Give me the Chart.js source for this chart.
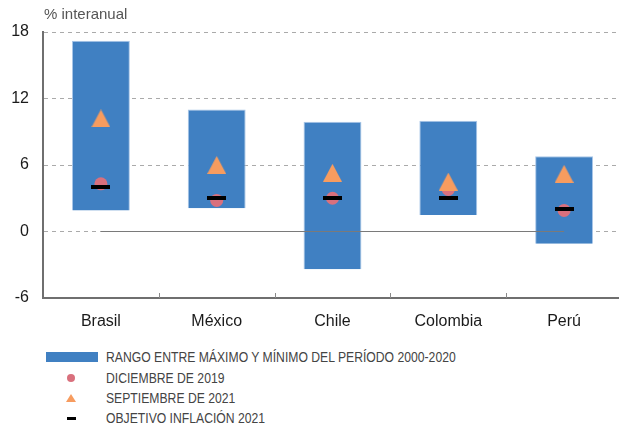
<!DOCTYPE html>
<html>
<head>
<meta charset="utf-8">
<script src="https://cdn.jsdelivr.net/npm/chart.js@4.4.0/dist/chart.umd.min.js"></script>
<style>
    html, body { margin: 0; padding: 0; background: #fff; overflow: hidden; }
    #wrap { position: relative; width: 633px; height: 340px; }
    #title { position: absolute; left: 44px; top: 5px; font: 15px "Liberation Sans", Arial, sans-serif; color: #555; }
    #legend { position: absolute; left: 0; top: 346px; font: 14px "Liberation Sans", Arial, sans-serif; color: #444; }
    .row { position: relative; height: 20px; line-height: 20px; padding-left: 106px; white-space: nowrap; }
    .row.first { height: 22px; line-height: 22px; }
    .row span.t { display: inline-block; transform: scaleX(0.87); transform-origin: left center; }
    .mk { position: absolute; }
</style>
</head>
<body>
<div id="wrap">
    <canvas id="chart" width="633" height="340"></canvas>
    <div id="title">% interanual</div>
</div>
<div id="legend">
    <div class="row first"><span class="mk" style="left:46px;top:6px;width:52px;height:10px;background:#4080C2"></span><span class="t">RANGO ENTRE MÁXIMO Y MÍNIMO DEL PERÍODO 2000-2020</span></div>
    <div class="row"><span class="mk" style="left:67px;top:6px;width:8px;height:8px;border-radius:50%;background:#D9707D"></span><span class="t">DICIEMBRE DE 2019</span></div>
    <div class="row"><span class="mk" style="left:66px;top:6px;width:0;height:0;border-left:5px solid transparent;border-right:5px solid transparent;border-bottom:8px solid #F79C5F"></span><span class="t">SEPTIEMBRE DE 2021</span></div>
    <div class="row"><span class="mk" style="left:67px;top:9px;width:9px;height:3px;background:#000"></span><span class="t">OBJETIVO INFLACIÓN 2021</span></div>
</div>
<script>
// data
const categories = ['Brasil', 'México', 'Chile', 'Colombia', 'Perú'];
const rangeMin = [1.9, 2.1, -3.4, 1.5, -1.1];
const rangeMax = [17.2, 11.0, 9.9, 10.0, 6.8];
const dec2019 = [4.3, 2.8, 3.0, 3.8, 1.9];
const sep2021 = [10.2, 6.0, 5.3, 4.5, 5.2];
const target2021 = [4.0, 3.0, 3.0, 3.0, 2.0];
const zeroLine = [0, 0, 0, 0, 0];
const yTicks = [-6, 0, 6, 12, 18];

const FONT = 'Liberation Sans, Arial, sans-serif';

// marker images, centred on the point
function triangleMarker() {
    const c = document.createElement('canvas');
    c.width = 19; c.height = 18;
    const g = c.getContext('2d');
    g.fillStyle = '#F79C5F';
    g.beginPath();
    g.moveTo(9.5, 0); g.lineTo(19, 18); g.lineTo(0, 18);
    g.closePath(); g.fill();
    return c;
}
function dashMarker() {
    const c = document.createElement('canvas');
    c.width = 19; c.height = 4;
    const g = c.getContext('2d');
    g.fillStyle = '#000';
    g.fillRect(0, 0, 19, 4);
    return c;
}

// little inward ticks on the category axis
const innerTicks = {
    id: 'innerTicks',
    afterDatasetsDraw(chart) {
        const { ctx, chartArea } = chart;
        ctx.save();
        ctx.strokeStyle = '#8a8a8a';
        ctx.lineWidth = 1;
        const w = (chartArea.right - chartArea.left) / categories.length;
        for (let i = 1; i < categories.length; i++) {
            const px = Math.round(chartArea.left + w * i) + 0.5;
            ctx.beginPath();
            ctx.moveTo(px, chartArea.bottom);
            ctx.lineTo(px, chartArea.bottom - 5);
            ctx.stroke();
        }
        ctx.restore();
    }
};

new Chart(document.getElementById('chart'), {
    data: {
        labels: categories,
        datasets: [
            {
                type: 'line',
                data: target2021,
                showLine: false,
                pointStyle: dashMarker(),
                pointRadius: 9,
                order: 1
            },
            {
                type: 'line',
                data: sep2021,
                showLine: false,
                pointStyle: triangleMarker(),
                pointRadius: 10,
                order: 2
            },
            {
                type: 'line',
                data: dec2019,
                showLine: false,
                pointStyle: 'circle',
                pointRadius: 6.5,
                pointBackgroundColor: '#D9707D',
                pointBorderWidth: 0,
                order: 3
            },
            {
                type: 'line',
                data: zeroLine,
                borderColor: '#7a7a7a',
                borderWidth: 1.2,
                pointRadius: 0,
                order: 4
            },
            {
                type: 'bar',
                data: rangeMin.map((v, i) => [v, rangeMax[i]]),
                backgroundColor: '#4080C2',
                borderColor: '#A9C6E8',
                borderWidth: { top: 1, left: 1, right: 1, bottom: 0 },
                borderSkipped: false,
                barPercentage: 0.5,
                categoryPercentage: 1,
                order: 5
            }
        ]
    },
    options: {
        responsive: false,
        animation: false,
        layout: { padding: { top: 32, right: 0, left: 0, bottom: 0 } },
        plugins: {
            legend: { display: false },
            tooltip: { enabled: false }
        },
        scales: {
            x: {
                offset: true,
                grid: { display: false, drawTicks: false },
                border: { display: true, color: '#6f6f6f', width: 2 },
                ticks: {
                    color: '#1a1a1a',
                    padding: 14,
                    font: { size: 16, family: FONT }
                },
                afterFit(scale) { scale.height = 42; }
            },
            y: {
                min: -6,
                max: 18,
                afterBuildTicks(scale) { scale.ticks = yTicks.map(v => ({ value: v })); },
                grid: {
                    color: (ctx) => ctx.tick && ctx.tick.value === -6 ? 'rgba(0,0,0,0)' : '#aaaaaa',
                    lineWidth: 1,
                    drawTicks: false
                },
                border: { display: true, color: '#6f6f6f', width: 2, dash: [4, 4] },
                ticks: {
                    color: '#1a1a1a',
                    padding: 14,
                    font: { size: 16, family: FONT }
                },
                afterFit(scale) { scale.width = 43; }
            }
        }
    },
    plugins: [innerTicks]
});
</script>
</body>
</html>
